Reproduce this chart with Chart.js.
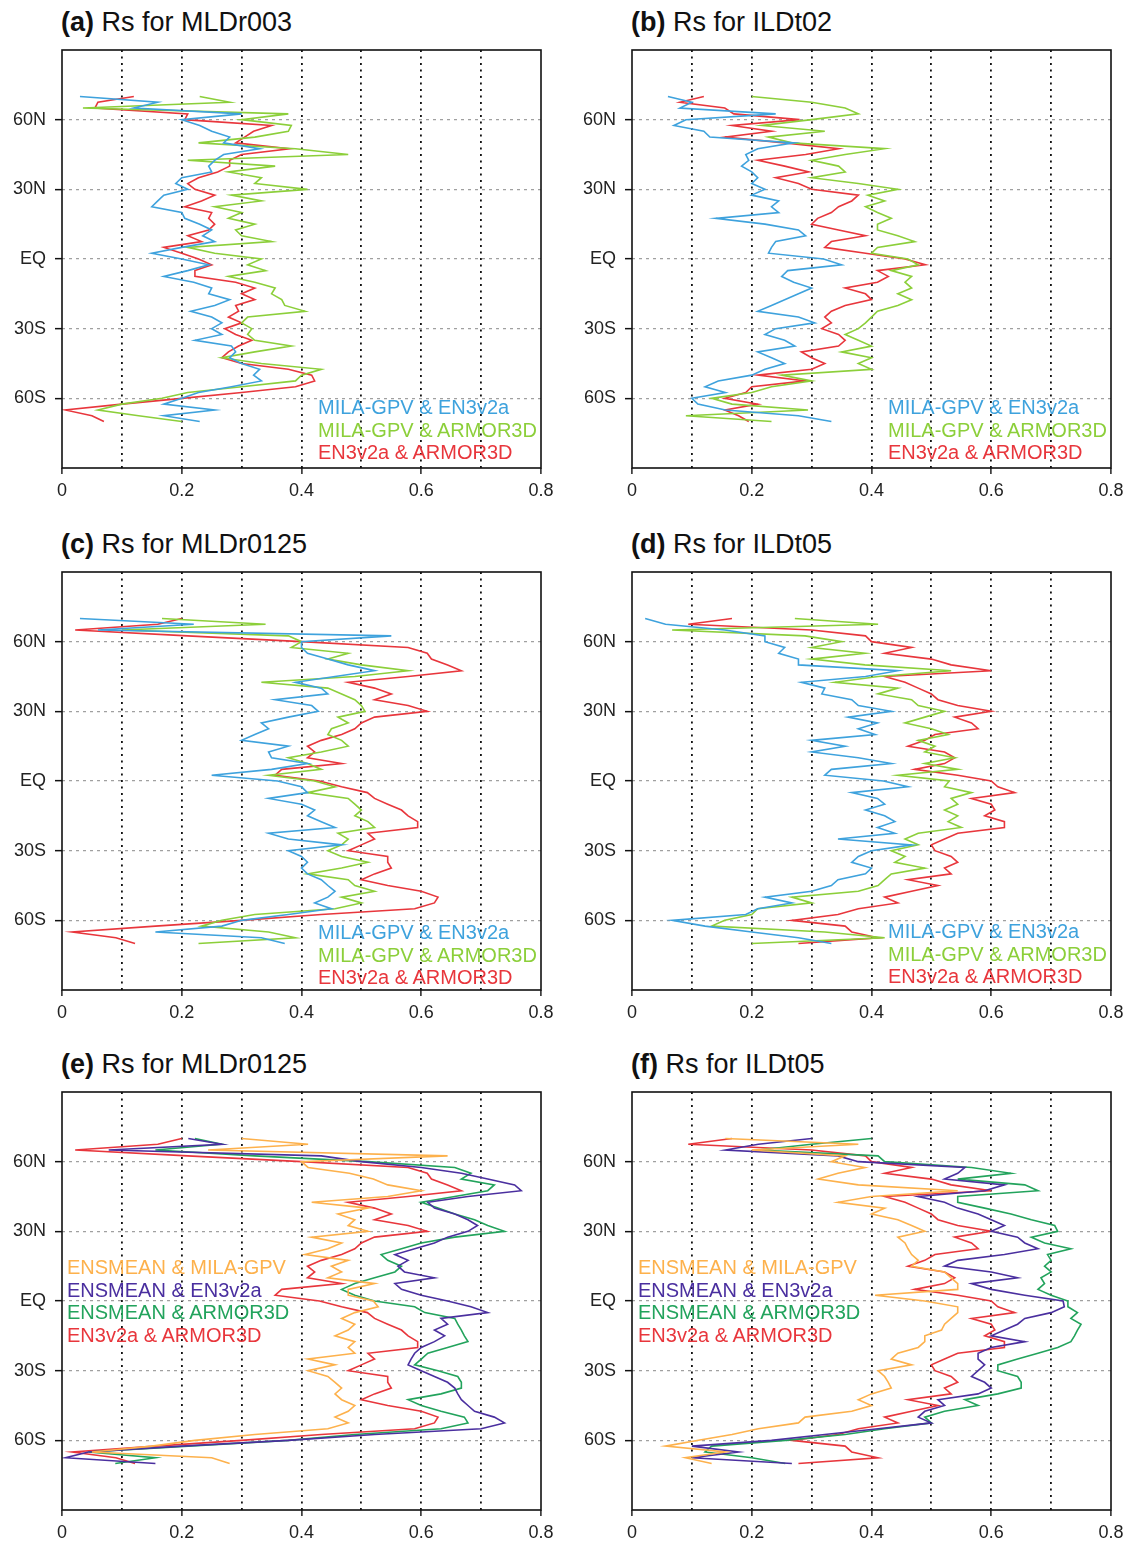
<!DOCTYPE html>
<html>
<head>
<meta charset="utf-8">
<title>Rs for MLD and ILD</title>
<script src="https://cdn.jsdelivr.net/npm/chart.js@4.4.0/dist/chart.umd.min.js"></script>
<style>
  body { margin: 0; background: #fff; font-family: 'Liberation Sans', Arial, sans-serif; }
  #page { position: relative; width: 1134px; height: 1544px; overflow: hidden; }
  .panel { position: absolute; }
  .title { position: absolute; font-size: 27px; line-height: 30px; color: #111; white-space: nowrap; }
  .legend { position: absolute; font-size: 20px; line-height: 22.5px; white-space: nowrap; }
</style>
</head>
<body>
<div id="page"></div>
<script>
// Latitudes of the profile points, north to south
const LATS = [70, 67.5, 65, 62.5, 60, 57.5, 55, 52.5, 50, 47.5, 45, 42.5, 40, 37.5, 35, 32.5, 30, 27.5, 25, 22.5, 20, 17.5, 15, 12.5, 10, 7.5, 5, 2.5, 0,
  -2.5, -5, -7.5, -10, -12.5, -15, -17.5, -20, -22.5, -25, -27.5, -30, -32.5, -35, -37.5, -40, -42.5, -45, -47.5, -50, -52.5, -55, -57.5, -60, -62.5, -65, -67.5, -70];

const X_TICKS = [0, 0.1, 0.2, 0.3, 0.4, 0.5, 0.6, 0.7, 0.8];
const X_LABELS = ['0', '', '0.2', '', '0.4', '', '0.6', '', '0.8'];
const LAT_TICKS = [-60, -30, 0, 30, 60];
const LAT_LABELS = ['60S', '30S', 'EQ', '30N', '60N'];

// (a) MLDr003
const MLDR003_MILA_EN3 = [0.03, 0.16, 0.12, 0.3, 0.2, 0.23, 0.25, 0.28, 0.27, 0.33, 0.27, 0.255, 0.245, 0.25, 0.2, 0.19, 0.21, 0.17, 0.16, 0.15, 0.2, 0.205, 0.23, 0.25, 0.235, 0.255, 0.2, 0.15, 0.2,
  0.245, 0.21, 0.17, 0.22, 0.25, 0.245, 0.28, 0.255, 0.215, 0.25, 0.267, 0.25, 0.267, 0.222, 0.283, 0.29, 0.28, 0.3, 0.33, 0.32, 0.333, 0.283, 0.228, 0.2, 0.17, 0.255, 0.17, 0.23];
const MLDR003_MILA_ARMOR = [0.23, 0.28, 0.035, 0.378, 0.3, 0.383, 0.378, 0.322, 0.228, 0.39, 0.478, 0.21, 0.356, 0.278, 0.333, 0.322, 0.41, 0.283, 0.333, 0.255, 0.3, 0.278, 0.322, 0.29, 0.3, 0.35, 0.21, 0.255, 0.333,
  0.31, 0.34, 0.278, 0.322, 0.356, 0.35, 0.367, 0.372, 0.406, 0.31, 0.3, 0.317, 0.31, 0.322, 0.383, 0.322, 0.267, 0.333, 0.433, 0.4, 0.39, 0.3, 0.21, 0.167, 0.1, 0.06, 0.128, 0.2];
const MLDR003_EN3_ARMOR = [0.12, 0.06, 0.055, 0.21, 0.205, 0.35, 0.32, 0.305, 0.29, 0.38, 0.3, 0.28, 0.28, 0.26, 0.228, 0.21, 0.222, 0.255, 0.233, 0.205, 0.25, 0.245, 0.255, 0.245, 0.21, 0.233, 0.17, 0.2, 0.228,
  0.25, 0.222, 0.222, 0.29, 0.322, 0.3, 0.322, 0.29, 0.295, 0.278, 0.3, 0.272, 0.29, 0.317, 0.295, 0.278, 0.267, 0.3, 0.378, 0.417, 0.422, 0.39, 0.3, 0.2, 0.1, 0.005, 0.05, 0.07];

// (b) ILDt02
const ILDT02_MILA_EN3 = [0.06, 0.1, 0.08, 0.24, 0.09, 0.07, 0.12, 0.13, 0.27, 0.21, 0.19, 0.195, 0.183, 0.2, 0.21, 0.2, 0.222, 0.2, 0.245, 0.233, 0.245, 0.14, 0.222, 0.278, 0.29, 0.24, 0.233, 0.228, 0.32,
  0.35, 0.26, 0.25, 0.27, 0.3, 0.278, 0.255, 0.233, 0.21, 0.278, 0.305, 0.24, 0.222, 0.255, 0.272, 0.21, 0.233, 0.255, 0.222, 0.2, 0.144, 0.122, 0.156, 0.1, 0.11, 0.156, 0.278, 0.333];
const ILDT02_MILA_ARMOR = [0.2, 0.3, 0.356, 0.378, 0.3, 0.217, 0.322, 0.228, 0.267, 0.422, 0.356, 0.3, 0.345, 0.356, 0.3, 0.378, 0.444, 0.394, 0.422, 0.39, 0.41, 0.433, 0.41, 0.41, 0.444, 0.472, 0.41, 0.4, 0.461,
  0.478, 0.433, 0.467, 0.456, 0.467, 0.444, 0.467, 0.444, 0.41, 0.4, 0.39, 0.378, 0.356, 0.378, 0.4, 0.35, 0.4, 0.378, 0.4, 0.25, 0.3, 0.233, 0.2, 0.133, 0.167, 0.294, 0.09, 0.233];
const ILDT02_EN3_ARMOR = [0.12, 0.08, 0.155, 0.17, 0.28, 0.167, 0.233, 0.155, 0.255, 0.345, 0.29, 0.21, 0.255, 0.295, 0.24, 0.278, 0.3, 0.378, 0.367, 0.345, 0.333, 0.31, 0.3, 0.345, 0.39, 0.333, 0.322, 0.39, 0.456,
  0.49, 0.41, 0.428, 0.41, 0.356, 0.39, 0.4, 0.356, 0.333, 0.322, 0.333, 0.317, 0.345, 0.356, 0.345, 0.283, 0.3, 0.322, 0.3, 0.21, 0.29, 0.2, 0.19, 0.155, 0.21, 0.155, 0.178, 0.195];

// (c) and (e) MLDr0125
const MLDR0125_MILA_EN3 = [0.03, 0.22, 0.06, 0.55, 0.4, 0.4, 0.41, 0.444, 0.478, 0.522, 0.456, 0.39, 0.433, 0.444, 0.356, 0.417, 0.428, 0.378, 0.333, 0.345, 0.322, 0.3, 0.378, 0.345, 0.35, 0.41, 0.35, 0.25, 0.36,
  0.4, 0.41, 0.345, 0.4, 0.422, 0.41, 0.433, 0.456, 0.345, 0.378, 0.467, 0.378, 0.4, 0.41, 0.4, 0.41, 0.433, 0.444, 0.456, 0.444, 0.422, 0.45, 0.378, 0.3, 0.267, 0.156, 0.333, 0.372];
const MLDR0125_MILA_ARMOR = [0.167, 0.34, 0.1, 0.378, 0.4, 0.383, 0.478, 0.444, 0.5, 0.578, 0.489, 0.333, 0.444, 0.467, 0.489, 0.5, 0.506, 0.461, 0.478, 0.45, 0.444, 0.467, 0.478, 0.433, 0.378, 0.41, 0.433, 0.345, 0.422,
  0.456, 0.41, 0.478, 0.489, 0.5, 0.489, 0.511, 0.522, 0.461, 0.478, 0.467, 0.444, 0.467, 0.511, 0.467, 0.41, 0.478, 0.489, 0.522, 0.467, 0.5, 0.456, 0.322, 0.267, 0.233, 0.345, 0.39, 0.228];
const MLDR0125_EN3_ARMOR = [0.2, 0.16, 0.022, 0.21, 0.4, 0.578, 0.61, 0.617, 0.644, 0.667, 0.578, 0.478, 0.522, 0.55, 0.522, 0.578, 0.61, 0.522, 0.5, 0.489, 0.467, 0.433, 0.41, 0.422, 0.41, 0.467, 0.367, 0.356, 0.43,
  0.467, 0.51, 0.522, 0.544, 0.567, 0.578, 0.594, 0.594, 0.511, 0.522, 0.5, 0.478, 0.544, 0.544, 0.55, 0.522, 0.5, 0.544, 0.6, 0.628, 0.622, 0.589, 0.433, 0.3, 0.156, 0.017, 0.09, 0.122];
const MLDR0125_ENS_MILA = [0.3, 0.411, 0.244, 0.644, 0.4, 0.411, 0.48, 0.52, 0.544, 0.6, 0.544, 0.417, 0.511, 0.461, 0.489, 0.478, 0.511, 0.417, 0.467, 0.444, 0.406, 0.478, 0.45, 0.467, 0.444, 0.522, 0.478, 0.478, 0.52,
  0.528, 0.489, 0.467, 0.489, 0.478, 0.456, 0.489, 0.478, 0.489, 0.411, 0.456, 0.411, 0.444, 0.456, 0.467, 0.456, 0.467, 0.489, 0.478, 0.456, 0.478, 0.444, 0.322, 0.222, 0.15, 0.05, 0.25, 0.28];
const MLDR0125_ENS_EN3 = [0.211, 0.267, 0.078, 0.433, 0.5, 0.6, 0.667, 0.711, 0.756, 0.767, 0.678, 0.611, 0.622, 0.656, 0.678, 0.694, 0.678, 0.644, 0.622, 0.589, 0.556, 0.578, 0.561, 0.572, 0.622, 0.556, 0.567, 0.6, 0.644,
  0.683, 0.711, 0.633, 0.644, 0.622, 0.639, 0.622, 0.6, 0.589, 0.583, 0.578, 0.6, 0.622, 0.644, 0.656, 0.661, 0.667, 0.678, 0.689, 0.722, 0.739, 0.7, 0.522, 0.378, 0.2, 0.044, 0.006, 0.156];
const MLDR0125_ENS_ARMOR = [0.222, 0.267, 0.156, 0.322, 0.511, 0.656, 0.683, 0.667, 0.722, 0.711, 0.656, 0.6, 0.628, 0.656, 0.689, 0.711, 0.739, 0.656, 0.6, 0.567, 0.533, 0.544, 0.567, 0.556, 0.522, 0.489, 0.467, 0.489, 0.522,
  0.589, 0.606, 0.656, 0.661, 0.667, 0.672, 0.678, 0.644, 0.611, 0.6, 0.589, 0.628, 0.661, 0.667, 0.667, 0.633, 0.578, 0.6, 0.633, 0.672, 0.678, 0.633, 0.489, 0.378, 0.211, 0.044, 0.156, 0.089];

// (d) and (f) ILDt05
const ILDT05_MILA_EN3 = [0.022, 0.056, 0.155, 0.222, 0.222, 0.255, 0.245, 0.278, 0.278, 0.444, 0.39, 0.283, 0.322, 0.317, 0.367, 0.378, 0.433, 0.361, 0.41, 0.378, 0.406, 0.3, 0.356, 0.3, 0.378, 0.433, 0.333, 0.322, 0.42,
  0.461, 0.367, 0.41, 0.422, 0.39, 0.422, 0.439, 0.41, 0.439, 0.344, 0.467, 0.4, 0.378, 0.367, 0.4, 0.39, 0.344, 0.333, 0.3, 0.222, 0.267, 0.21, 0.19, 0.067, 0.122, 0.2, 0.278, 0.333];
const ILDT05_MILA_ARMOR = [0.272, 0.411, 0.067, 0.289, 0.35, 0.3, 0.389, 0.3, 0.389, 0.533, 0.411, 0.339, 0.444, 0.411, 0.467, 0.478, 0.522, 0.489, 0.456, 0.5, 0.528, 0.478, 0.506, 0.489, 0.539, 0.489, 0.544, 0.444, 0.53,
  0.522, 0.567, 0.533, 0.544, 0.522, 0.544, 0.528, 0.55, 0.478, 0.456, 0.478, 0.433, 0.456, 0.439, 0.489, 0.433, 0.422, 0.411, 0.378, 0.267, 0.3, 0.21, 0.2, 0.155, 0.133, 0.322, 0.422, 0.2];
const ILDT05_EN3_ARMOR = [0.167, 0.094, 0.3, 0.39, 0.4, 0.467, 0.422, 0.5, 0.533, 0.6, 0.422, 0.456, 0.478, 0.5, 0.511, 0.544, 0.6, 0.539, 0.567, 0.578, 0.506, 0.489, 0.461, 0.522, 0.539, 0.522, 0.472, 0.544, 0.6,
  0.611, 0.639, 0.567, 0.6, 0.606, 0.589, 0.622, 0.622, 0.544, 0.522, 0.5, 0.506, 0.533, 0.544, 0.522, 0.533, 0.461, 0.511, 0.467, 0.422, 0.444, 0.378, 0.344, 0.267, 0.356, 0.367, 0.411, 0.278];
const ILDT05_ENS_MILA = [0.156, 0.378, 0.2, 0.356, 0.333, 0.389, 0.344, 0.311, 0.378, 0.544, 0.4, 0.344, 0.422, 0.4, 0.444, 0.467, 0.489, 0.444, 0.456, 0.461, 0.467, 0.478, 0.467, 0.522, 0.533, 0.544, 0.544, 0.406, 0.489,
  0.544, 0.544, 0.533, 0.522, 0.517, 0.489, 0.489, 0.478, 0.444, 0.433, 0.467, 0.411, 0.422, 0.428, 0.433, 0.4, 0.378, 0.4, 0.367, 0.289, 0.278, 0.211, 0.167, 0.111, 0.056, 0.156, 0.089, 0.133];
const ILDT05_ENS_EN3 = [0.3, 0.211, 0.156, 0.344, 0.378, 0.556, 0.544, 0.522, 0.622, 0.589, 0.478, 0.522, 0.544, 0.578, 0.6, 0.622, 0.6, 0.644, 0.656, 0.678, 0.622, 0.544, 0.522, 0.6, 0.644, 0.567, 0.6, 0.656, 0.72,
  0.722, 0.7, 0.656, 0.644, 0.622, 0.6, 0.656, 0.6, 0.578, 0.578, 0.589, 0.578, 0.567, 0.589, 0.6, 0.578, 0.511, 0.522, 0.489, 0.478, 0.5, 0.411, 0.322, 0.233, 0.1, 0.178, 0.1, 0.267];
const ILDT05_ENS_ARMOR = [0.4, 0.3, 0.211, 0.411, 0.422, 0.567, 0.633, 0.544, 0.656, 0.678, 0.544, 0.544, 0.589, 0.633, 0.667, 0.706, 0.711, 0.667, 0.689, 0.733, 0.694, 0.7, 0.689, 0.7, 0.683, 0.689, 0.678, 0.7, 0.728,
  0.728, 0.744, 0.733, 0.75, 0.744, 0.739, 0.733, 0.711, 0.678, 0.644, 0.611, 0.611, 0.644, 0.65, 0.65, 0.611, 0.556, 0.578, 0.522, 0.489, 0.5, 0.422, 0.356, 0.256, 0.133, 0.122, 0.2, 0.256];

// Line colours
const BLUE = '#3ea2dd';
const LIME = '#8ccf3a';
const RED = '#e8363c';
const ORANGE = '#fdb14c';
const PURPLE = '#4a2f9f';
const GREEN = '#22a35c';

// Geometry of one panel (plot box and the room for its axes)
const PLOT_W = 479;
const PLOT_H = 418;
const AXIS_W = 55;
const AXIS_H = 42;
const PAD_R = 18;
const PAD_T = 10;

const PANELS = [
  { tag: '(a)', title: 'Rs for MLDr003', left: 62, top: 50, legendX: 318, legendY: 396,
    series: [['MILA-GPV & EN3v2a', MLDR003_MILA_EN3, BLUE], ['MILA-GPV & ARMOR3D', MLDR003_MILA_ARMOR, LIME], ['EN3v2a & ARMOR3D', MLDR003_EN3_ARMOR, RED]] },
  { tag: '(b)', title: 'Rs for ILDt02', left: 632, top: 50, legendX: 888, legendY: 396,
    series: [['MILA-GPV & EN3v2a', ILDT02_MILA_EN3, BLUE], ['MILA-GPV & ARMOR3D', ILDT02_MILA_ARMOR, LIME], ['EN3v2a & ARMOR3D', ILDT02_EN3_ARMOR, RED]] },
  { tag: '(c)', title: 'Rs for MLDr0125', left: 62, top: 572, legendX: 318, legendY: 921,
    series: [['MILA-GPV & EN3v2a', MLDR0125_MILA_EN3, BLUE], ['MILA-GPV & ARMOR3D', MLDR0125_MILA_ARMOR, LIME], ['EN3v2a & ARMOR3D', MLDR0125_EN3_ARMOR, RED]] },
  { tag: '(d)', title: 'Rs for ILDt05', left: 632, top: 572, legendX: 888, legendY: 920,
    series: [['MILA-GPV & EN3v2a', ILDT05_MILA_EN3, BLUE], ['MILA-GPV & ARMOR3D', ILDT05_MILA_ARMOR, LIME], ['EN3v2a & ARMOR3D', ILDT05_EN3_ARMOR, RED]] },
  { tag: '(e)', title: 'Rs for MLDr0125', left: 62, top: 1092, legendX: 67, legendY: 1256,
    series: [['ENSMEAN & MILA-GPV', MLDR0125_ENS_MILA, ORANGE], ['ENSMEAN & EN3v2a', MLDR0125_ENS_EN3, PURPLE],
             ['ENSMEAN & ARMOR3D', MLDR0125_ENS_ARMOR, GREEN], ['EN3v2a & ARMOR3D', MLDR0125_EN3_ARMOR, RED]] },
  { tag: '(f)', title: 'Rs for ILDt05', left: 632, top: 1092, legendX: 638, legendY: 1256,
    series: [['ENSMEAN & MILA-GPV', ILDT05_ENS_MILA, ORANGE], ['ENSMEAN & EN3v2a', ILDT05_ENS_EN3, PURPLE],
             ['ENSMEAN & ARMOR3D', ILDT05_ENS_ARMOR, GREEN], ['EN3v2a & ARMOR3D', ILDT05_EN3_ARMOR, RED]] }
];

// Draws the closed box round the plot area
const framePlugin = {
  id: 'frame',
  afterDatasetsDraw(chart) {
    const { ctx, chartArea: a } = chart;
    ctx.save();
    ctx.setLineDash([]);
    ctx.strokeStyle = '#111';
    ctx.lineWidth = 1.6;
    ctx.strokeRect(a.left, a.top, a.right - a.left, a.bottom - a.top);
    ctx.restore();
  }
};

function noPadding(axis) {
  axis.paddingTop = 0;
  axis.paddingBottom = 0;
  axis.paddingLeft = 0;
  axis.paddingRight = 0;
}

function makeChart(canvas, panel) {
  const tickFont = { family: "'Liberation Sans', Arial, sans-serif", size: 18 };
  return new Chart(canvas, {
    type: 'scatter',
    data: {
      datasets: panel.series.map(([label, values, color]) => ({
        label: label,
        data: LATS.map((lat, i) => ({ x: values[i], y: lat })),
        showLine: true,
        borderColor: color,
        backgroundColor: color,
        borderWidth: 1.6,
        pointRadius: 0,
        tension: 0,
        fill: false
      }))
    },
    options: {
      responsive: false,
      animation: false,
      layout: { padding: { top: PAD_T, right: PAD_R, left: 0, bottom: 0 } },
      plugins: { legend: { display: false }, tooltip: { enabled: false } },
      scales: {
        x: {
          type: 'linear', min: 0, max: 0.8,
          afterBuildTicks: axis => { axis.ticks = X_TICKS.map(v => ({ value: v })); },
          afterFit: axis => { axis.height = AXIS_H; noPadding(axis); },
          ticks: { autoSkip: false, maxRotation: 0, padding: 6, color: '#222', font: tickFont,
                   callback: (v, i) => X_LABELS[i] },
          grid: {
            color: ctx => (ctx.index === 0 || ctx.index === X_TICKS.length - 1) ? 'rgba(0,0,0,0)' : '#111',
            lineWidth: 1.8,
            tickLength: 6,
            tickWidth: 1.4,
            tickColor: ctx => ctx.index % 2 ? 'rgba(0,0,0,0)' : '#111'
          },
          border: { display: false, dash: [2, 4.5] }
        },
        y: {
          type: 'linear', min: -90, max: 90,
          afterBuildTicks: axis => { axis.ticks = LAT_TICKS.map(v => ({ value: v })); },
          afterFit: axis => { axis.width = AXIS_W; noPadding(axis); },
          ticks: { autoSkip: false, padding: 9, color: '#222', font: tickFont,
                   callback: (v, i) => LAT_LABELS[i] },
          grid: { color: '#a0a0a0', lineWidth: 1.3, tickLength: 7, tickWidth: 1.5, tickColor: '#111' },
          border: { display: false, dash: [3, 4] }
        }
      }
    },
    plugins: [framePlugin]
  });
}

function buildPanel(panel) {
  const page = document.getElementById('page');

  const box = document.createElement('div');
  box.className = 'panel';
  const canvas = document.createElement('canvas');
  canvas.width = AXIS_W + PLOT_W + PAD_R;
  canvas.height = PAD_T + PLOT_H + AXIS_H;
  box.appendChild(canvas);
  page.appendChild(box);

  const chart = makeChart(canvas, panel);
  // line the plot box up with the reference position
  const area = chart.chartArea;
  box.style.left = (panel.left - area.left) + 'px';
  box.style.top = (panel.top - area.top) + 'px';

  const title = document.createElement('div');
  title.className = 'title';
  title.style.left = (panel.left - 1) + 'px';
  title.style.top = (panel.top - 43) + 'px';
  title.innerHTML = '<b>' + panel.tag + '</b> ' + panel.title;
  page.appendChild(title);

  const legend = document.createElement('div');
  legend.className = 'legend';
  legend.style.left = panel.legendX + 'px';
  legend.style.top = panel.legendY + 'px';
  panel.series.forEach(([label, , color]) => {
    const row = document.createElement('div');
    row.style.color = color;
    row.textContent = label;
    legend.appendChild(row);
  });
  page.appendChild(legend);
}

document.addEventListener('DOMContentLoaded', function() {
  PANELS.forEach(buildPanel);
});
</script>
</body>
</html>
